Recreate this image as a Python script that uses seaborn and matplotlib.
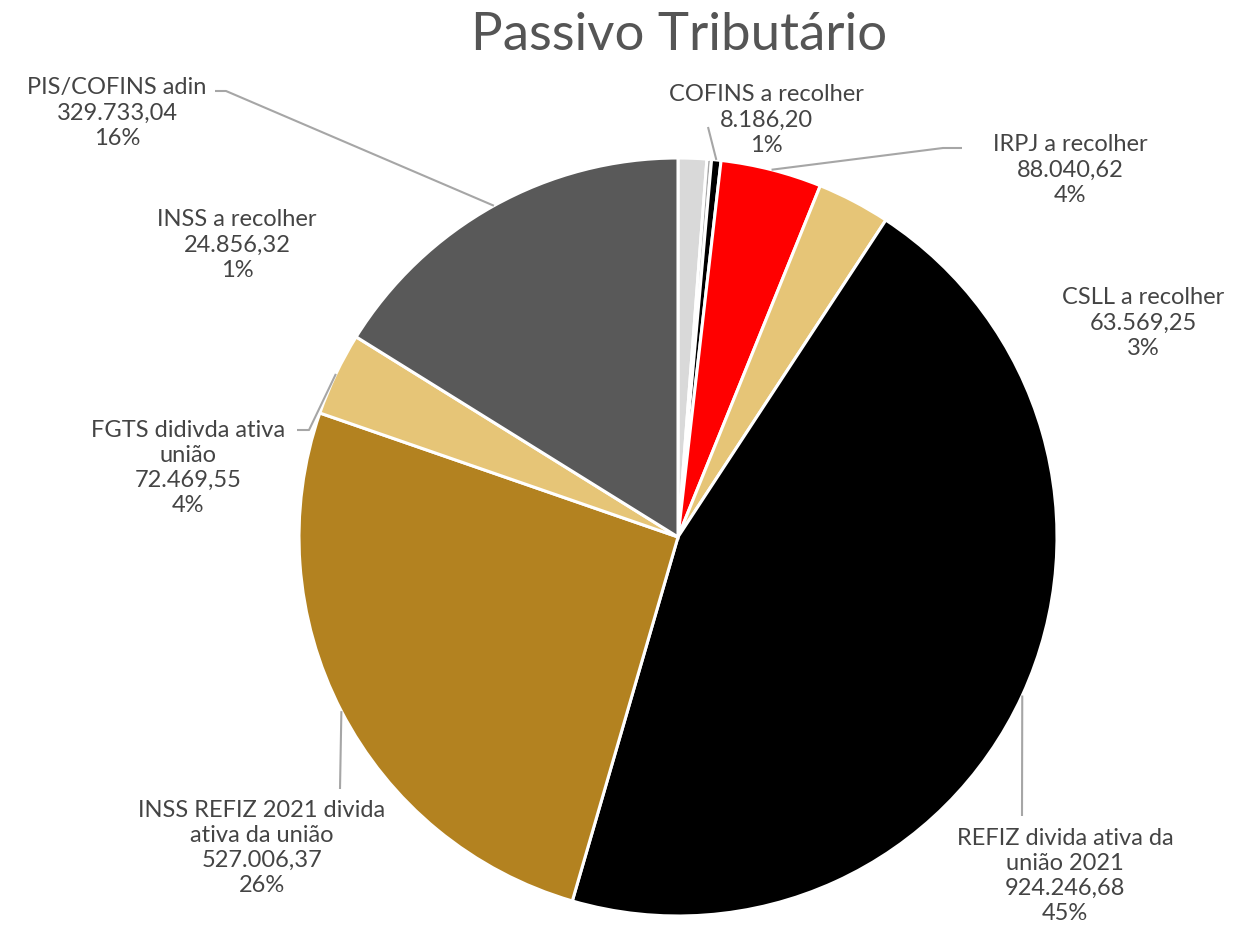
import matplotlib
matplotlib.use("Agg")
import matplotlib.pyplot as plt
import seaborn as sns
import numpy as np

# ---------------- data ----------------
categories = ["INSS a recolher", "", "COFINS a recolher", "IRPJ a recolher",
              "CSLL a recolher", "REFIZ divida ativa da\nunião 2021",
              "INSS REFIZ 2021 divida\nativa da união", "FGTS didivda ativa\nunião",
              "PIS/COFINS adin"]
values = [24856.32, 4000.0, 8186.20, 88040.62, 63569.25, 924246.68,
          527006.37, 72469.55, 329733.04]
pct_labels = ["1%", "", "1%", "4%", "3%", "45%", "26%", "4%", "16%"]
colors = ["#d9d9d9", "#a6a6a6", "#000000", "#ff0000", "#e6c577",
          "#000000", "#b38220", "#e6c577", "#595959"]

# ---------------- layout (pixels) ----------------
W, H = 1238, 930
CX, CY, R = 678, 537, 379
label_pos = {0: (237, 245), 2: (766, 120), 3: (1070, 170), 4: (1143, 323),
             5: (1065, 876), 6: (262, 848), 7: (188, 468), 8: (117, 113)}
leaders = {2: [(708, 127)], 3: [(962, 148), (943, 148)], 5: [(1022, 816)],
           6: [(340, 789)], 7: [(297, 430), (309, 430)], 8: [(215, 91), (226, 91)]}

def px(p):
    return ((p[0] - CX) / R, (CY - p[1]) / R)

sns.set_theme(style="white")
plt.rcParams["font.family"] = ["Lato", "DejaVu Sans"]

fig = plt.figure(figsize=(W / 100, H / 100), dpi=100)
ax = fig.add_axes([0, 0, 1, 1])

wedges, _ = ax.pie(values, colors=colors, startangle=90, counterclock=False,
                   radius=1.0, center=(0, 0), frame=True,
                   wedgeprops=dict(edgecolor="white", linewidth=2.2))
ax.set_xlim(-CX / R, (W - CX) / R)
ax.set_ylim(-(H - CY) / R, CY / R)
ax.set_aspect("auto")
ax.axis("off")

def fmt(v):
    return f"{v:,.2f}".replace(",", "X").replace(".", ",").replace("X", ".")

txt_color = "#444444"
for i, (name, v, pct) in enumerate(zip(categories, values, pct_labels)):
    if i not in label_pos:
        continue
    x, y = px(label_pos[i])
    ax.text(x, y, f"{name}\n{fmt(v)}\n{pct}", ha="center", va="center",
            fontsize=17, color=txt_color, fontweight="normal", linespacing=1.25)
    if i in leaders:
        w = wedges[i]
        mid = np.deg2rad((w.theta1 + w.theta2) / 2)
        pts = [px(p) for p in leaders[i]] + [(np.cos(mid), np.sin(mid))]
        xs, ys = zip(*pts)
        ax.plot(xs, ys, color="#a6a6a6", lw=1.5, solid_capstyle="butt")

fig.text(679 / W, 1 - 36 / H, "Passivo Tributário", ha="center", va="center",
         fontsize=38, color="#555555", fontweight="normal")

fig.savefig("out.png", dpi=100, facecolor="white")
